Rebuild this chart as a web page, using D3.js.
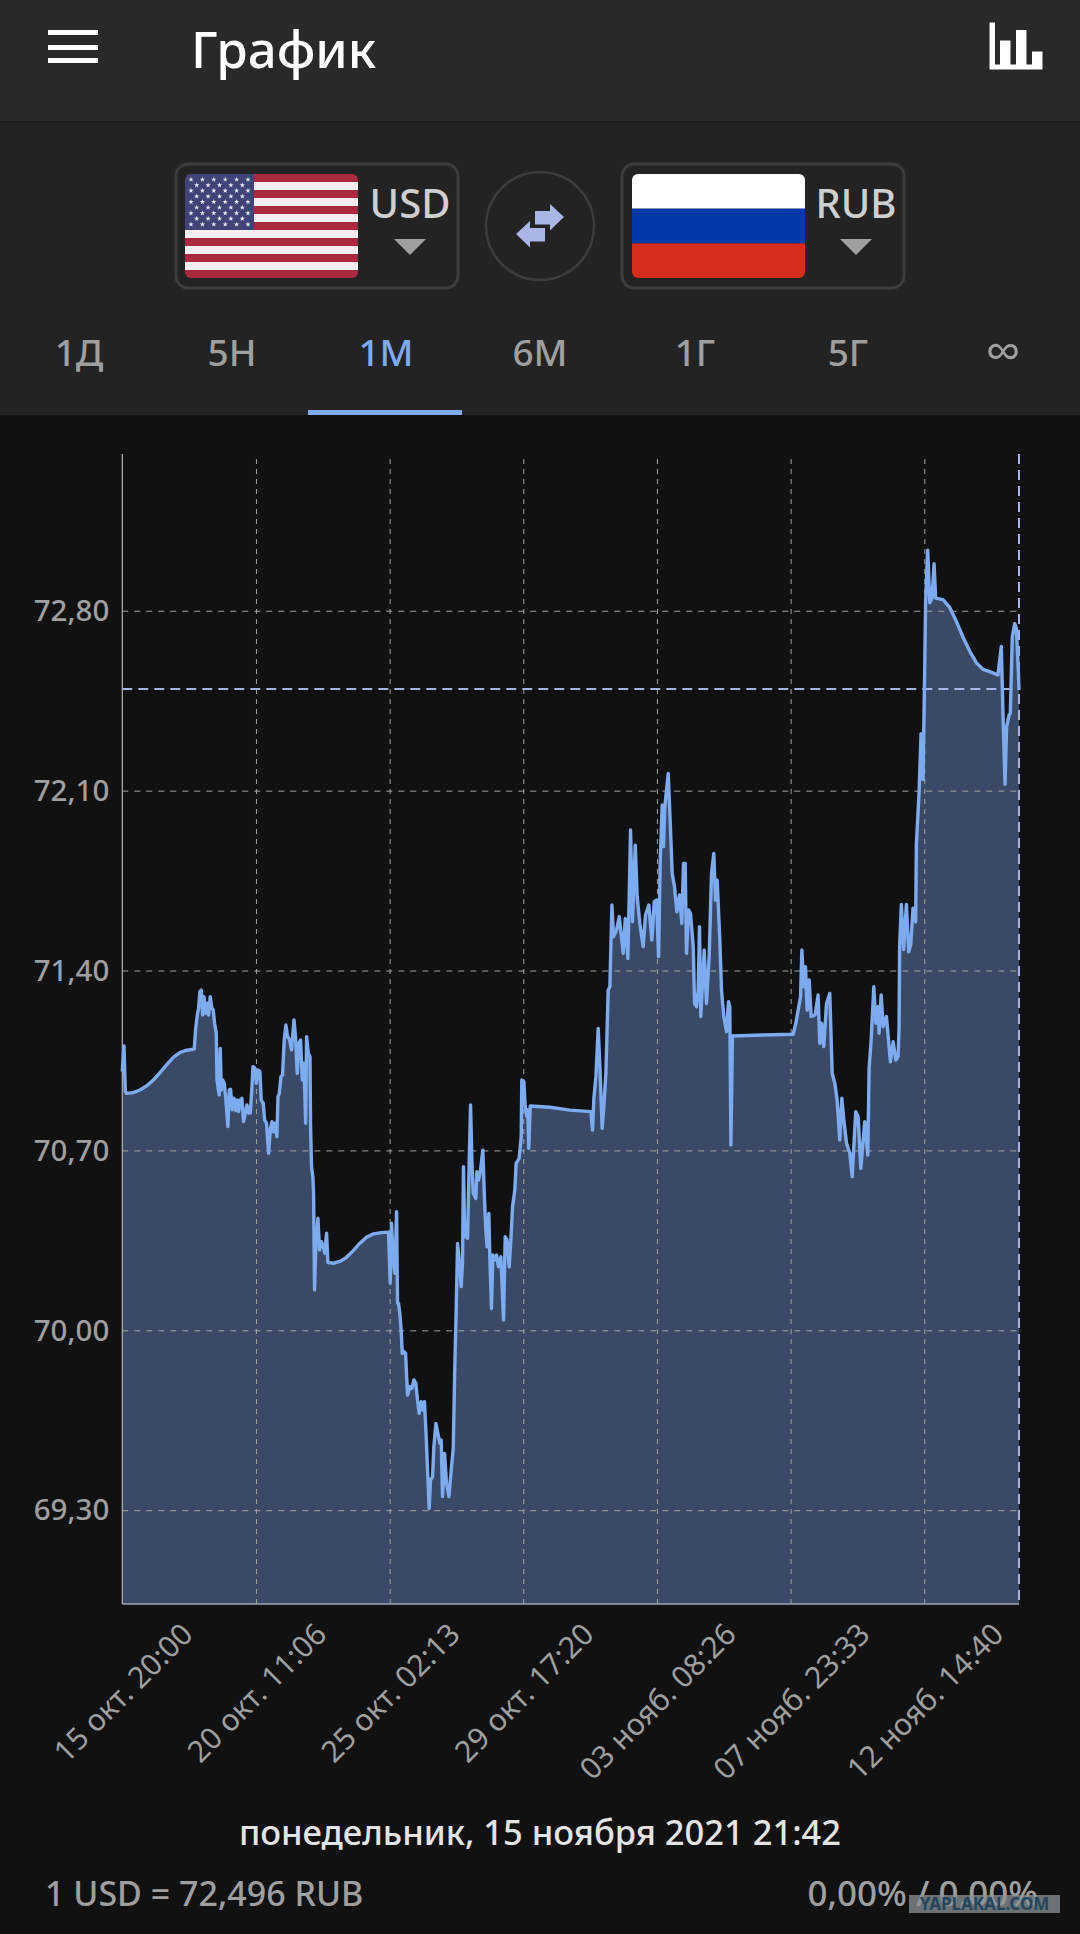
<!DOCTYPE html>
<html>
<head>
<meta charset="utf-8">
<title>График</title>
<script src="https://cdn.jsdelivr.net/npm/d3@7"></script>
<style>
  html, body { margin: 0; padding: 0; background: #111111; }
  svg { display: block; }
  text { font-family: "Noto Sans", "Open Sans", sans-serif; }
</style>
</head>
<body>
<div id="chart-area"></div>
<script>
// USD/RUB, values. hours = hours since 15 Oct 20:00
const hours = [
  0, 1.4, 2.5, 3.6, 9.1, 14.7, 20.2, 25.8, 31.3, 36.8,
  42.4, 47.9, 53.5, 59.8, 60.9, 62.3, 63.4, 64.5, 65.6, 66.8,
  67.9, 69.3, 70.6, 71.7, 73.1, 74.5, 75.6, 76.7, 78.1, 78.7,
  79.5, 80.6, 81.4, 82.3, 83.4, 84.8, 86.1, 87.8, 88.9, 90.0,
  91.4, 92.8, 94.2, 95.6, 96.7, 98.1, 99.4, 100.8, 102.2, 103.6,
  105.0, 106.4, 107.8, 108.6, 110.2, 111.4, 112.5, 114.4, 115.5, 117.2,
  118.3, 119.9, 121.6, 123.0, 124.4, 125.5, 126.9, 128.5, 129.4, 130.5,
  131.9, 133.2, 134.6, 136.0, 137.4, 139.1, 140.7, 142.7, 144.0, 145.4,
  146.8, 148.2, 149.6, 151.0, 152.4, 153.2, 154.6, 156.0, 156.5, 157.3,
  158.4, 159.0, 159.8, 160.9, 162.6, 164.0, 165.4, 167.0, 168.4, 169.8,
  170.9, 175.3, 180.9, 186.4, 192.0, 197.5, 203.0, 208.6, 215.5, 221.3,
  222.7, 223.8, 225.2, 226.6, 228.0, 228.8, 229.6, 230.7, 231.8, 232.7,
  234.1, 235.5, 236.3, 237.1, 239.1, 240.7, 242.4, 244.0, 245.4, 246.8,
  248.5, 249.9, 251.2, 252.6, 254.0, 255.1, 256.2, 257.9, 259.0, 260.7,
  262.3, 264.0, 265.1, 266.2, 267.9, 269.5, 271.5, 273.4, 275.1, 276.4,
  277.6, 278.7, 280.0, 281.7, 282.8, 283.6, 284.5, 285.6, 287.0, 288.4,
  289.5, 290.6, 291.7, 293.9, 294.7, 296.1, 297.8, 299.7, 301.1, 302.2,
  303.3, 304.7, 305.5, 306.9, 308.0, 309.4, 311.1, 312.7, 314.7, 316.9,
  318.3, 319.9, 321.6, 323.0, 324.4, 326.3, 327.4, 329.9, 331.6, 332.1,
  333.8, 334.9, 336.3, 337.1, 337.9, 339.1, 355.5, 372.1, 389.5, 390.9,
  392.0, 393.7, 395.6, 397.0, 398.9, 400.3, 402.0, 403.9, 405.3, 407.0,
  408.4, 410.9, 413.1, 416.4, 418.1, 420.3, 422.5, 424.1, 426.4, 428.0,
  430.2, 433.0, 434.9, 437.7, 440.2, 442.2, 444.1, 445.8, 447.1, 448.8,
  449.9, 451.0, 453.8, 455.5, 457.1, 459.0, 461.0, 463.2, 465.1, 466.5,
  467.9, 469.0, 470.7, 472.3, 474.6, 475.7, 477.3, 478.7, 479.8, 480.9,
  482.3, 483.7, 485.6, 487.9, 489.8, 491.7, 493.1, 494.5, 496.7, 498.1,
  500.0, 502.3, 503.9, 505.0, 505.9, 507.2, 532.7, 557.7, 559.9, 561.8,
  563.8, 564.9, 566.5, 567.9, 569.3, 571.0, 572.6, 575.9, 578.4, 579.8,
  581.2, 583.1, 585.4, 588.1, 590.1, 592.3, 594.2, 596.4, 598.1, 599.8,
  602.0, 604.8, 606.7, 609.7, 611.7, 613.9, 617.2, 619.7, 620.8, 622.5,
  624.7, 626.4, 628.3, 629.1, 630.8, 632.5, 635.2, 638.5, 640.8, 643.0,
  644.9, 645.7, 646.2, 647.6, 649.5, 651.8, 653.7, 655.4, 657.3, 659.5,
  660.1, 662.3, 664.0, 665.6, 667.0, 667.8, 669.5, 671.2, 673.1, 674.8,
  676.1, 682.2, 687.8, 693.3, 698.9, 704.4, 709.9, 715.5, 721.0, 727.9,
  729.3, 730.7, 732.1, 733.8, 735.1, 737.1, 738.2, 739.8, 741.8, 743.2,
  744.8, 745.4
];
const rates = [
  71.007, 71.107, 70.929, 70.922, 70.925, 70.935, 70.951, 70.974, 71.003, 71.033,
  71.062, 71.081, 71.090, 71.094, 71.169, 71.227, 71.253, 71.318, 71.324, 71.227,
  71.298, 71.234, 71.273, 71.227, 71.298, 71.253, 71.247, 71.195, 71.156, 70.974,
  70.948, 70.916, 71.097, 70.935, 70.974, 70.961, 70.896, 70.793, 70.935, 70.938,
  70.858, 70.903, 70.855, 70.896, 70.851, 70.896, 70.903, 70.812, 70.845, 70.877,
  70.845, 70.845, 70.948, 71.026, 71.020, 70.961, 71.013, 71.007, 70.896, 70.883,
  70.819, 70.806, 70.689, 70.780, 70.812, 70.773, 70.806, 70.754, 70.909, 70.922,
  70.987, 70.994, 71.130, 71.188, 71.143, 71.130, 71.091, 71.208, 71.143, 71.000,
  71.117, 71.130, 70.974, 71.039, 70.806, 71.143, 71.078, 71.065, 70.793, 70.637,
  70.598, 70.533, 70.157, 70.326, 70.436, 70.313, 70.345, 70.326, 70.300, 70.378,
  70.264, 70.261, 70.268, 70.284, 70.310, 70.339, 70.362, 70.375, 70.380, 70.382,
  70.183, 70.417, 70.274, 70.222, 70.462, 70.105, 70.105, 70.066, 70.001, 69.910,
  69.917, 69.910, 69.826, 69.748, 69.781, 69.774, 69.807, 69.794, 69.729, 69.677,
  69.722, 69.690, 69.722, 69.586, 69.430, 69.307, 69.417, 69.430, 69.547, 69.638,
  69.599, 69.560, 69.573, 69.353, 69.521, 69.404, 69.353, 69.456, 69.541, 69.858,
  70.092, 70.338, 70.273, 70.170, 70.260, 70.637, 70.403, 70.364, 70.358, 70.663,
  70.877, 70.663, 70.533, 70.513, 70.617, 70.585, 70.624, 70.701, 70.507, 70.390,
  70.325, 70.455, 70.286, 70.085, 70.293, 70.273, 70.293, 70.247, 70.286, 70.040,
  70.364, 70.351, 70.247, 70.351, 70.481, 70.546, 70.650, 70.669, 70.753, 70.974,
  70.968, 70.870, 70.832, 70.858, 70.708, 70.873, 70.868, 70.857, 70.851, 70.779,
  70.903, 70.987, 71.175, 71.026, 70.786, 70.870, 71.000, 71.324, 71.337, 71.655,
  71.532, 71.558, 71.610, 71.467, 71.603, 71.447, 71.947, 71.590, 71.888, 71.687,
  71.584, 71.493, 71.616, 71.655, 71.519, 71.668, 71.674, 71.454, 71.817, 72.044,
  71.882, 72.038, 72.167, 71.973, 71.778, 71.726, 71.629, 71.694, 71.584, 71.817,
  71.817, 71.467, 71.636, 71.623, 71.493, 71.272, 71.259, 71.324, 71.571, 71.221,
  71.350, 71.480, 71.272, 71.460, 71.778, 71.856, 71.674, 71.752, 71.519, 71.324,
  71.221, 71.162, 71.279, 71.259, 70.721, 71.145, 71.149, 71.152, 71.195, 71.246,
  71.298, 71.480, 71.337, 71.415, 71.246, 71.363, 71.221, 71.227, 71.305, 71.117,
  71.195, 71.104, 71.272, 71.311, 71.000, 70.961, 70.896, 70.741, 70.903, 70.818,
  70.728, 70.689, 70.598, 70.851, 70.831, 70.630, 70.812, 70.682, 71.019, 71.130,
  71.337, 71.195, 71.259, 71.156, 71.305, 71.182, 71.221, 71.045, 71.123, 71.052,
  71.065, 71.178, 71.500, 71.657, 71.482, 71.657, 71.473, 71.500, 71.643, 71.589,
  71.893, 72.089, 72.322, 72.143, 72.572, 72.840, 73.036, 72.831, 72.849, 72.983,
  72.849, 72.843, 72.813, 72.759, 72.697, 72.643, 72.598, 72.572, 72.563, 72.550,
  72.607, 72.661, 72.393, 72.125, 72.348, 72.393, 72.402, 72.697, 72.750, 72.732,
  72.572, 72.491
];
const currentRate = 72.496;

const rateTicks = [69.3, 70.0, 70.7, 71.4, 72.1, 72.8];
const timeTicks = [0, 111.11, 222.22, 333.33, 444.44, 555.55, 666.67];
const timeLabels = ["15 окт. 20:00", "20 окт. 11:06", "25 окт. 02:13", "29 окт. 17:20",
  "03 нояб. 08:26", "07 нояб. 23:33", "12 нояб. 14:40"];

const tabs = ["1Д", "5Н", "1М", "6М", "1Г", "5Г", "∞"];
const tabCenters = [79, 232, 386, 540, 695, 848, 1003];
const activeTab = "1М";

const W = 1080, H = 1934;
const plot = { left: 122.3, right: 1019, top: 454, gridTop: 459, bottom: 1604 };
const blue = "#7dabf0", grey = "#9f9f9f", soft = "#a9b4e2";

const svg = d3.select("#chart-area").append("svg")
  .attr("width", W).attr("height", H);

svg.append("rect").attr("width", W).attr("height", H).attr("fill", "#111111");

// app bars
svg.append("rect").attr("width", W).attr("height", 122).attr("fill", "#292929");
svg.append("rect").attr("y", 122).attr("width", W).attr("height", 293).attr("fill", "#232323");
svg.append("rect").attr("y", 121).attr("width", W).attr("height", 2).attr("fill", "#1f1f1f");

// hamburger
[30, 45, 58].forEach((y) => {
  svg.append("rect").attr("x", 48).attr("y", y).attr("width", 50).attr("height", 5).attr("fill", "#fff");
});

svg.append("text").attr("x", 191).attr("y", 68)
  .attr("font-size", 51).attr("font-weight", 500).attr("fill", "#fff").text("График");

// bars icon, top right
svg.append("path").attr("fill", "#fff")
  .attr("d", "M989.5 22.5h5.5v42h5V40.5h10.5v24h5.500V30h10.500v34.500h5.500V51.500h10.500v18h-53z");

// currency selectors
const selectors = [
  { x: 176, flag: 185, code: "USD", textX: 410 },
  { x: 622, flag: 632, code: "RUB", textX: 856 }
];
selectors.forEach((s) => {
  svg.append("rect").attr("x", s.x).attr("y", 164).attr("width", 282).attr("height", 124)
    .attr("rx", 12).attr("fill", "none").attr("stroke", "#3d3d3d").attr("stroke-width", 3);
  svg.append("text").attr("x", s.textX).attr("y", 218).attr("text-anchor", "middle")
    .attr("font-size", 40).attr("font-weight", 500).attr("fill", "#cfcfcf").text(s.code);
  svg.append("path").attr("fill", grey)
    .attr("d", `M${s.textX - 16} 239h32l-16 16z`);
});

const defs = svg.append("defs");
[185, 632].forEach((fx) => {
  defs.append("clipPath").attr("id", "flag" + fx).append("rect")
    .attr("x", fx).attr("y", 174).attr("width", 173).attr("height", 104).attr("rx", 6);
});

// US flag
const usFlag = svg.append("g").attr("clip-path", "url(#flag185)");
const stripeY = d3.scaleBand().domain(d3.range(13)).range([174, 278]);
usFlag.selectAll("rect.stripe").data(d3.range(13)).enter().append("rect")
  .attr("x", 185).attr("width", 173)
  .attr("y", (d) => stripeY(d)).attr("height", stripeY.bandwidth())
  .attr("fill", (d) => d % 2 ? "#f6eef0" : "#a92a3c");
usFlag.append("rect").attr("x", 185).attr("y", 174).attr("width", 69).attr("height", 56).attr("fill", "#3f4377");
const star = d3.symbol().type(d3.symbolStar).size(9);
d3.range(9).forEach((row) => {
  const n = row % 2 ? 5 : 6;
  d3.range(n).forEach((col) => {
    usFlag.append("path").attr("d", star).attr("fill", "#e8e8f0")
      .attr("transform", `translate(${191 + col * 11.4 + (row % 2 ? 5.7 : 0)},${179.5 + row * 5.6})`);
  });
});

// RU flag
const ruColors = ["#ffffff", "#0339a6", "#d52c1e"];
const ruFlag = svg.append("g").attr("clip-path", "url(#flag632)");
ruFlag.selectAll("rect").data(ruColors).enter().append("rect")
  .attr("x", 632).attr("width", 173).attr("height", 34.7)
  .attr("y", (d, i) => 174 + i * 34.7).attr("fill", (d) => d);

// swap button
svg.append("circle").attr("cx", 540).attr("cy", 226).attr("r", 54)
  .attr("fill", "none").attr("stroke", "#3d3d3d").attr("stroke-width", 2.5);
svg.append("path").attr("fill", "#a9b6e6")
  .attr("d", "M564 217l-14 -13v7h-15v13.500h15v6z");
svg.append("path").attr("fill", "#a9b6e6")
  .attr("d", "M516 234l14 -13v7h15v13.500h-15v6z");

// period tabs
svg.selectAll("text.tab").data(tabs).enter().append("text")
  .attr("class", "tab")
  .attr("x", (d, i) => tabCenters[i]).attr("y", (d) => d === "∞" ? 369 : 366)
  .attr("text-anchor", "middle").attr("font-size", (d) => d === "∞" ? 50 : 37)
  .attr("font-weight", 500)
  .attr("fill", (d) => d === activeTab ? blue : grey)
  .text((d) => d);
svg.append("rect").attr("x", 308).attr("y", 410).attr("width", 154).attr("height", 5).attr("fill", blue);

// scales: 257 px per rouble, 1.2034 px per hour in the picture
const x = d3.scaleLinear().domain([0, 745.4]).range([plot.left, plot.right]);
const y = d3.scaleLinear().domain([68.935, 73.41]).range([plot.bottom, plot.top]);

const points = hours.map((h, i) => ({ h: h, v: rates[i] }));

svg.append("path").datum(points)
  .attr("fill", "#3a4a66")
  .attr("d", d3.area().x((d) => x(d.h)).y0(plot.bottom).y1((d) => y(d.v)));

// grid, drawn on top of the fill
const ruLocale = d3.formatLocale({ decimal: ",", thousands: " ", grouping: [3], currency: ["", ""] });

const yAxis = svg.append("g").attr("transform", `translate(${plot.left},0)`)
  .call(d3.axisLeft(y).tickValues(rateTicks).tickFormat(ruLocale.format(".2f"))
    .tickSize(-(plot.right - plot.left)).tickPadding(13));
const xAxis = svg.append("g").attr("transform", `translate(0,${plot.bottom})`)
  .call(d3.axisBottom(x).tickValues(timeTicks).tickFormat((d, i) => timeLabels[i])
    .tickSize(-(plot.bottom - plot.gridTop)).tickPadding(0));

yAxis.select(".domain").remove();
xAxis.select(".domain").remove();
yAxis.selectAll(".tick line")
  .attr("stroke", "#a3a3a3").attr("stroke-width", 1).attr("stroke-dasharray", "6 6");
xAxis.selectAll(".tick line")
  .attr("stroke", "#a3a3a3").attr("stroke-width", 1).attr("stroke-dasharray", "5 5");
xAxis.select(".tick line").remove();

yAxis.selectAll("text").attr("font-size", 29.500).attr("font-weight", 500).attr("fill", grey)
  .attr("font-family", "Noto Sans").attr("dy", "0.33em");

// rotated labels: centred under the tick, all hanging from the same top edge
const digitH = 22;
xAxis.selectAll("text")
  .attr("font-size", 30).attr("fill", grey)
  .attr("font-family", "Noto Sans")
  .attr("text-anchor", "middle").attr("dy", 0).attr("y", 0).attr("x", 0)
  .attr("transform", function() {
    const len = this.getComputedTextLength();
    return `translate(${digitH * 0.354},${16.5 + (len / 2 + digitH) * Math.SQRT1_2}) rotate(-45)`;
  });

// axis frame
svg.append("line").attr("x1", plot.left).attr("x2", plot.left).attr("y1", plot.top).attr("y2", plot.bottom)
  .attr("stroke", "#b5b5b5").attr("stroke-width", 1.2);
svg.append("line").attr("x1", plot.left).attr("x2", plot.right).attr("y1", plot.bottom).attr("y2", plot.bottom)
  .attr("stroke", "#9fa6b5").attr("stroke-width", 1.5);

// current rate cursor
svg.append("line").attr("x1", plot.left).attr("x2", plot.right)
  .attr("y1", y(currentRate)).attr("y2", y(currentRate))
  .attr("stroke", soft).attr("stroke-width", 2).attr("stroke-dasharray", "10 6");
svg.append("line").attr("x1", plot.right).attr("x2", plot.right)
  .attr("y1", plot.top).attr("y2", plot.bottom)
  .attr("stroke", soft).attr("stroke-width", 2).attr("stroke-dasharray", "10 6");

svg.append("path").datum(points)
  .attr("fill", "none").attr("stroke", blue).attr("stroke-width", 3.4)
  .attr("stroke-linejoin", "round")
  .attr("d", d3.line().x((d) => x(d.h)).y((d) => y(d.v)));

// footer
svg.append("text").attr("x", 540).attr("y", 1845).attr("text-anchor", "middle")
  .attr("font-size", 34.500).attr("font-weight", 500).attr("fill", "#e4e4e4").text("понедельник, 15 ноября 2021 21:42");
svg.append("text").attr("x", 45).attr("y", 1906)
  .attr("font-size", 34).attr("font-weight", 500).attr("fill", grey).text("1 USD = 72,496 RUB");
svg.append("text").attr("x", 1038).attr("y", 1906).attr("text-anchor", "end")
  .attr("font-size", 35).attr("font-weight", 500).attr("fill", grey).text("0,00% / 0,00%");

// watermark
svg.append("rect").attr("x", 909).attr("y", 1895).attr("width", 151).attr("height", 18)
  .attr("fill", "#8b9295").attr("opacity", 0.75);
svg.append("text").attr("x", 984.5).attr("y", 1910).attr("text-anchor", "middle")
  .attr("font-size", 17).attr("font-weight", 700).attr("fill", "#23465f").text("YAPLAKAL.COM");
</script>
</body>
</html>
